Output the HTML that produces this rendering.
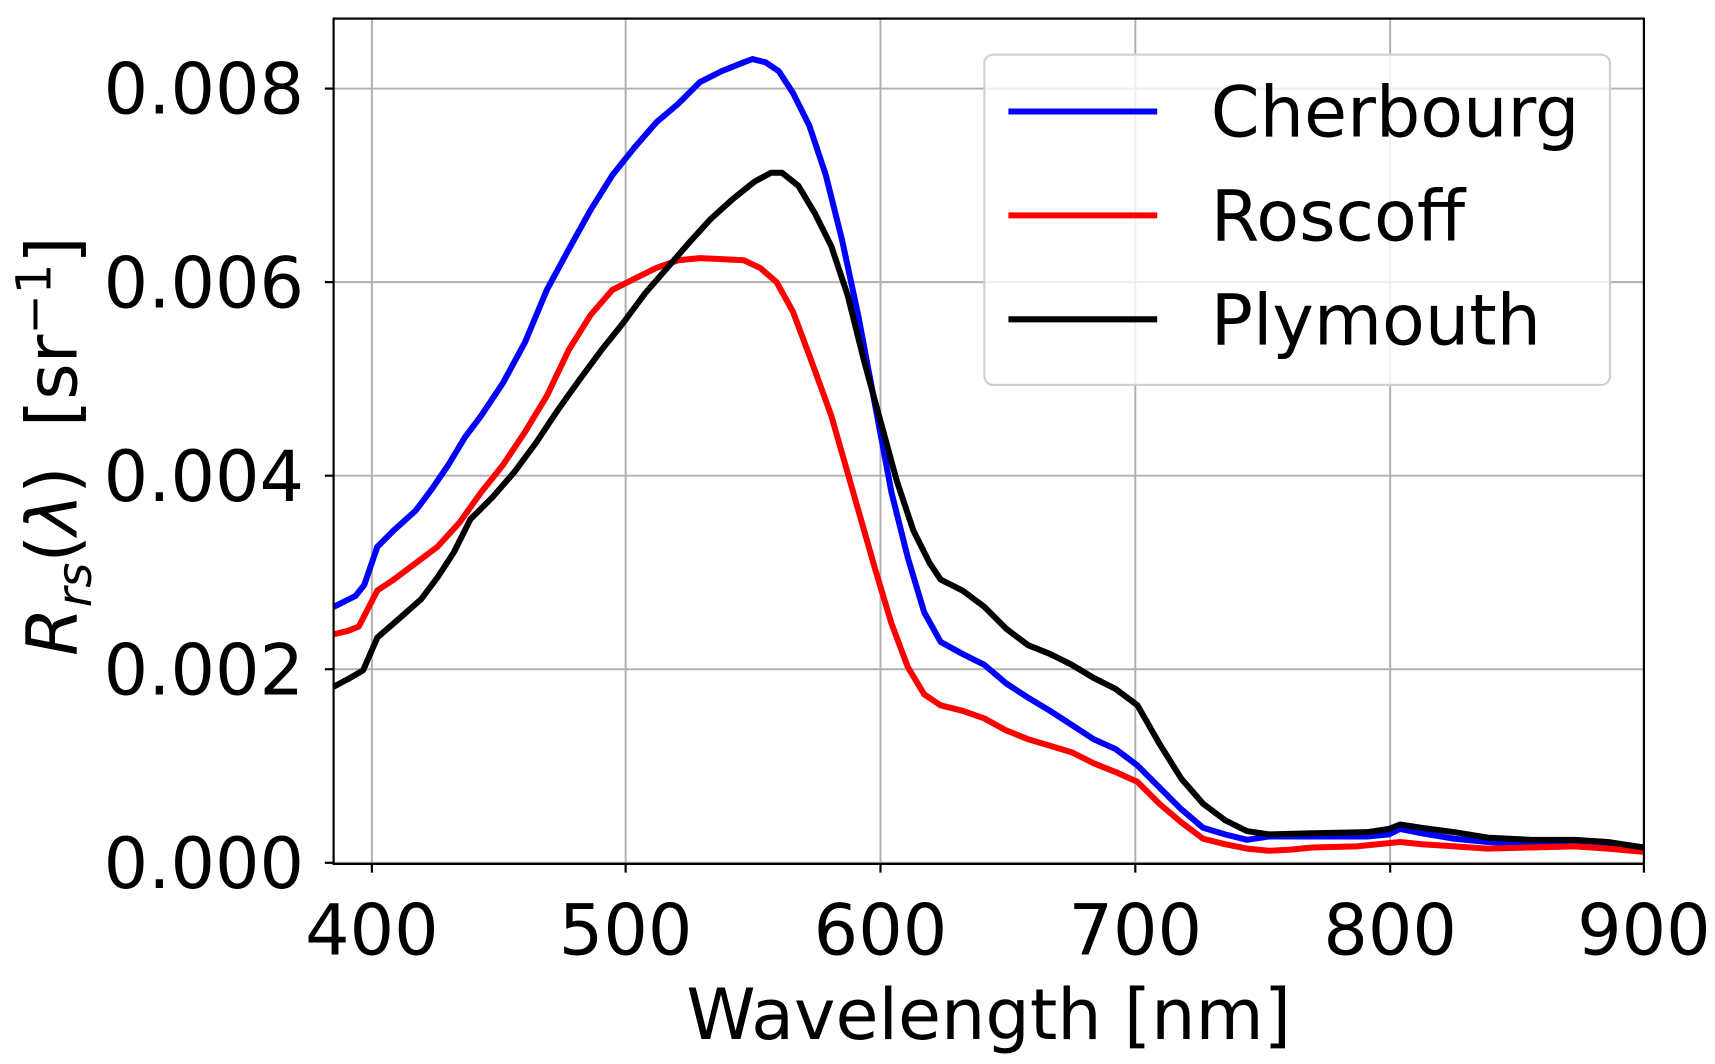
<!DOCTYPE html>
<html><head><style>html,body{margin:0;padding:0;background:#fff}svg{display:block}</style></head><body>
<svg width="1715" height="1064" viewBox="0 0 1568 973" preserveAspectRatio="none" xmlns="http://www.w3.org/2000/svg" font-family="DejaVu Sans, sans-serif">
<rect width="1568" height="973" fill="#fff"/>
<g stroke="#b0b0b0" stroke-width="1.8">
<line x1="340" y1="17" x2="340" y2="790"/><line x1="572" y1="17" x2="572" y2="790"/><line x1="805" y1="17" x2="805" y2="790"/><line x1="1038" y1="17" x2="1038" y2="790"/><line x1="1271" y1="17" x2="1271" y2="790"/>
<line x1="305" y1="789" x2="1503" y2="789"/><line x1="305" y1="612" x2="1503" y2="612"/><line x1="305" y1="435" x2="1503" y2="435"/><line x1="305" y1="258" x2="1503" y2="258"/><line x1="305" y1="81" x2="1503" y2="81"/>
</g>
<g fill="none" stroke-width="5.5" stroke-linejoin="round">
<polyline stroke="#0000ff" points="305,555 325,545 333,535 345,500 360,485 380,467 395,447 410,425 425,400 440,380 460,350 480,313 500,265 520,228 540,192 560,160 580,135 600,112 620,95 640,75 660,65 680,57 688,54 700,57 712,65 725,85 740,115 755,160 770,220 785,290 800,370 815,450 830,510 845,560 860,587 880,598 900,608 920,625 940,638 960,650 980,663 1000,676 1020,685 1040,700 1060,720 1080,740 1100,757 1120,763 1140,768 1160,765 1200,765 1250,765 1270,763 1280,758 1300,762 1330,767 1360,770 1400,772 1440,772 1470,773 1503,776"/>
<polyline stroke="#ff0000" points="305,580 318,577 328,573 345,540 360,530 380,515 400,500 420,478 440,450 460,425 480,395 500,362 520,320 540,288 560,265 580,255 600,245 620,238 640,236 660,237 680,238 695,245 710,258 725,285 740,325 760,380 780,450 800,520 815,570 830,610 845,635 860,645 880,650 900,657 920,668 940,676 960,682 980,688 1000,698 1020,706 1040,715 1060,735 1080,752 1100,767 1120,772 1140,776 1160,778 1180,777 1200,775 1240,774 1270,771 1280,770 1300,772 1330,774 1360,776 1400,775 1440,774 1470,776 1503,779"/>
<polyline stroke="#000" points="305,628 320,620 332,613 345,583 360,570 385,548 400,528 415,505 430,475 450,455 470,432 490,405 510,375 530,347 550,320 570,295 590,268 610,245 630,222 650,200 670,182 690,166 705,158 715,158 730,170 745,195 760,225 775,270 790,330 805,385 820,440 835,485 850,515 860,530 880,540 900,555 920,575 940,590 960,598 980,608 1000,620 1020,630 1040,645 1060,680 1080,712 1100,735 1120,750 1140,760 1160,763 1200,762 1250,761 1270,758 1280,754 1300,757 1330,761 1360,766 1400,768 1440,768 1470,770 1503,775"/>
</g>
<rect x="305" y="17" width="1198" height="773" fill="none" stroke="#000" stroke-width="2"/>
<g stroke="#000" stroke-width="2">
<line x1="340" y1="790" x2="340" y2="798"/><line x1="572" y1="790" x2="572" y2="798"/><line x1="805" y1="790" x2="805" y2="798"/><line x1="1038" y1="790" x2="1038" y2="798"/><line x1="1271" y1="790" x2="1271" y2="798"/><line x1="1503" y1="790" x2="1503" y2="798"/>
<line x1="297" y1="789" x2="305" y2="789"/><line x1="297" y1="612" x2="305" y2="612"/><line x1="297" y1="435" x2="305" y2="435"/><line x1="297" y1="258" x2="305" y2="258"/><line x1="297" y1="81" x2="305" y2="81"/>
</g>
<g font-size="64" text-anchor="middle" fill="#000">
<text x="340" y="873">400</text><text x="572" y="873">500</text><text x="805" y="873">600</text><text x="1038" y="873">700</text><text x="1271" y="873">800</text><text x="1503" y="873">900</text>
</g>
<g font-size="64" text-anchor="end" fill="#000">
<text x="278" y="812">0.000</text><text x="278" y="635">0.002</text><text x="278" y="458">0.004</text><text x="278" y="281">0.006</text><text x="278" y="104">0.008</text>
</g>
<text x="904" y="950" font-size="64" text-anchor="middle">Wavelength [nm]</text>
<text transform="translate(70,408) rotate(-90)" font-size="64" text-anchor="middle"><tspan font-style="italic">R</tspan><tspan font-style="italic" font-size="44" dy="13">rs</tspan><tspan dy="-13">(</tspan><tspan font-style="italic">λ</tspan><tspan>)</tspan><tspan dx="36">[sr</tspan><tspan font-size="44" dy="-24">−1</tspan><tspan dy="24">]</tspan></text>
<rect x="900" y="50" width="572" height="302" rx="8" fill="#fff" fill-opacity="0.8" stroke="#d0d0d0" stroke-width="2"/>
<g stroke-width="5.5"><line x1="922" y1="102" x2="1058" y2="102" stroke="#0000ff"/><line x1="922" y1="197" x2="1058" y2="197" stroke="#ff0000"/><line x1="922" y1="292" x2="1058" y2="292" stroke="#000"/></g>
<g font-size="64" fill="#000"><text x="1107" y="125">Cherbourg</text><text x="1107" y="220">Roscoff</text><text x="1107" y="315">Plymouth</text></g>
</svg>
</body></html>
